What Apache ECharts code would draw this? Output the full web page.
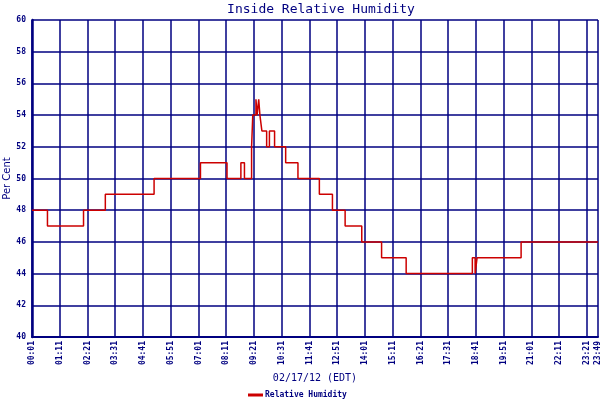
<!DOCTYPE html>
<html>
<head>
<meta charset="utf-8">
<script src="https://cdn.jsdelivr.net/npm/echarts@6/dist/echarts.min.js"></script>
<style>
html,body{margin:0;padding:0;background:#fff;}
#c{width:600px;height:400px;}
</style>
</head>
<body>
<div id="c"></div>
<script>
// minutes since 00:01 where the reading changes, and the reading from then on
const changeMinutes = [0, 39, 130, 185, 308, 425, 492, 527, 536, 554, 557, 565, 568, 572, 575, 580, 592, 599, 612, 640, 671, 725, 758, 790, 832, 882, 944, 1111, 1118, 1123, 1234, 1428];
const humidity =      [48, 47, 48, 49, 50, 51, 50, 51, 50, 52, 54, 55, 54, 55, 54, 53, 52, 53, 52, 51, 50, 49, 48, 47, 46, 45, 44, 45, 44, 45, 46, 46];
const seriesName = 'Relative Humidity';
const titleText = 'Inside Relative Humidity';
const xTitle = '02/17/12 (EDT)';
const yTitle = 'Per Cent';
const startMinuteOfDay = 1; // 00:01

const NAVY = '#000080';
const RED = '#cc0000';

function fmtTime(v) {
  const t = Math.round(v) + startMinuteOfDay;
  const h = Math.floor(t / 60), m = t % 60;
  return (h < 10 ? '0' : '') + h + ':' + (m < 10 ? '0' : '') + m;
}

const chart = echarts.init(document.getElementById('c'));
chart.setOption({
  animation: false,
  backgroundColor: '#fff',
  title: {
    text: titleText, left: 316, textAlign: 'center', top: -2,
    textStyle: { fontFamily: 'DejaVu Sans Mono', fontSize: 13, fontWeight: 'normal', color: NAVY }
  },
  legend: {
    data: [seriesName], top: 386, left: 243,
    icon: 'rect', itemWidth: 15, itemHeight: 3, itemGap: 4,
    textStyle: { fontFamily: 'DejaVu Sans Mono', fontSize: 8, fontWeight: 'bold', color: NAVY, padding: [0,0,0,-3] }
  },
  grid: { left: 32, right: 2, top: 20, bottom: 63, containLabel: false, outerBoundsMode: 'none' },
  xAxis: {
    type: 'value', min: 0, max: 1428, interval: 70,
    name: xTitle, nameLocation: 'middle', nameGap: 36, nameMoveOverlap: false,
    nameTextStyle: { fontFamily: 'DejaVu Sans Mono', fontSize: 10, color: NAVY },
    axisLine: { show: true, lineStyle: { color: NAVY, width: 2 } },
    axisTick: { show: false },
    splitLine: { show: true, lineStyle: { color: NAVY, width: 1.5 } },
    axisLabel: {
      rotate: 90, formatter: fmtTime, margin: 4, hideOverlap: false,
      fontFamily: 'DejaVu Sans Mono', fontSize: 8, fontWeight: 'bold', color: NAVY,
      showMaxLabel: true, showMinLabel: true
    }
  },
  yAxis: {
    type: 'value', min: 40, max: 60, interval: 2,
    name: yTitle, nameLocation: 'middle', nameGap: 20, nameMoveOverlap: false,
    nameTextStyle: { fontFamily: 'DejaVu Sans', fontSize: 10, color: NAVY },
    axisLine: { show: true, lineStyle: { color: NAVY, width: 2.5 } },
    axisTick: { show: false },
    splitLine: { show: true, lineStyle: { color: NAVY, width: 1.5 } },
    axisLabel: { margin: 6, fontFamily: 'DejaVu Sans Mono', fontSize: 8, fontWeight: 'bold', color: NAVY }
  },
  series: [{
    name: seriesName, type: 'line', step: 'end', showSymbol: false,
    data: changeMinutes.map((m, i) => [m, humidity[i]]),
    lineStyle: { color: RED, width: 1.5 }, itemStyle: { color: RED }
  }]
});
</script>
</body>
</html>
